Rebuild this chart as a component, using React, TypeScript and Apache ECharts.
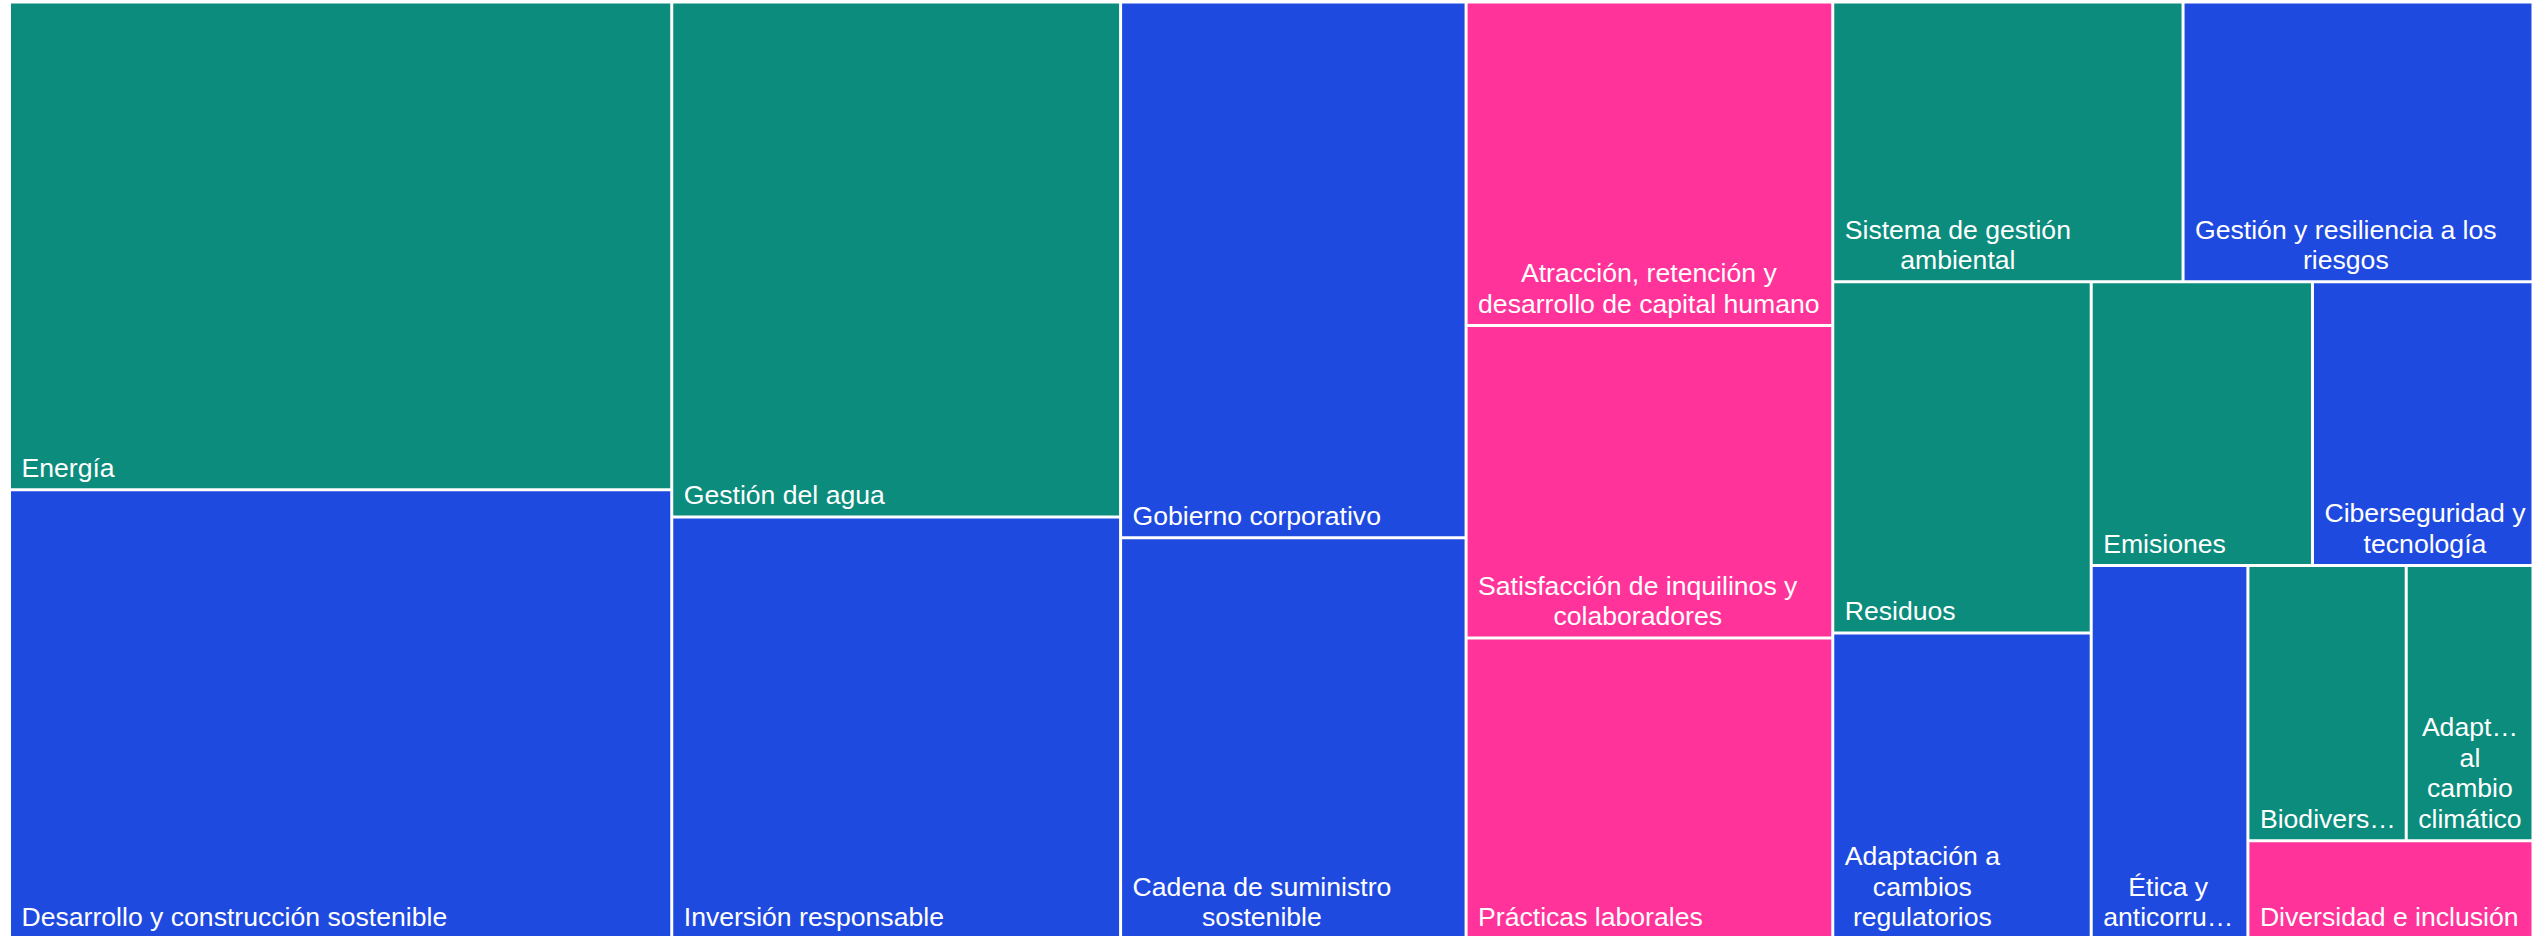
import React, { useEffect, useRef } from 'react';
import * as echarts from 'echarts';

// Full topic names
const names = [
  'Energía',
  'Desarrollo y construcción sostenible',
  'Gestión del agua',
  'Inversión responsable',
  'Gobierno corporativo',
  'Cadena de suministro sostenible',
  'Atracción, retención y desarrollo de capital humano',
  'Satisfacción de inquilinos y colaboradores',
  'Prácticas laborales',
  'Sistema de gestión ambiental',
  'Gestión y resiliencia a los riesgos',
  'Residuos',
  'Adaptación a cambios regulatorios',
  'Emisiones',
  'Ciberseguridad y tecnología',
  'Ética y anticorrupción',
  'Biodiversidad',
  'Adaptación al cambio climático',
  'Diversidad e inclusión',
];

// Labels as displayed (wrapped / truncated)
const labelTexts = [
  'Energía',
  'Desarrollo y construcción sostenible',
  'Gestión del agua',
  'Inversión responsable',
  'Gobierno corporativo',
  'Cadena de suministro\nsostenible',
  'Atracción, retención y\ndesarrollo de capital humano',
  'Satisfacción de inquilinos y\ncolaboradores',
  'Prácticas laborales',
  'Sistema de gestión\nambiental',
  'Gestión y resiliencia a los\nriesgos',
  'Residuos',
  'Adaptación a\ncambios\nregulatorios',
  'Emisiones',
  'Ciberseguridad y\ntecnología',
  'Ética y\nanticorru…',
  'Biodivers…',
  'Adapt…\nal\ncambio\nclimático',
  'Diversidad e inclusión',
];

// Relative weights
const values = [323.8, 298.4, 231.8, 189.9, 185.6, 139.0, 118.9, 114.9, 110.7, 98.3, 98.2, 91.0, 79.3, 62.9, 62.7, 58.7, 43.7, 35.0, 28.1];

// Pillar of each topic: A = ambiental, S = social, G = gobernanza
const pillars = ['A', 'G', 'A', 'G', 'G', 'G', 'S', 'S', 'S', 'A', 'G', 'A', 'G', 'A', 'G', 'G', 'A', 'A', 'S'];
const pillarColors: Record<string, string> = { A: '#0B8C7C', G: '#1F4AE0', S: '#FF3399' };

// Order in which topics are grouped into strips by the layout
const strips = [[0, 1], [2, 3], [4, 5], [6, 7, 8], [9, 10], [11, 12], [13, 14], [15], [16, 17], [18]];

const FONT_SIZE = 26.6;
const FONT_FAMILY = '"Liberation Sans", Arial, Helvetica, sans-serif';
const LINE_HEIGHT = 30.5;
const PAD_LEFT = 10.5;
const PAD_BOTTOM = 5;

function measureBlock(text: string): number {
  const ctx = document.createElement('canvas').getContext('2d');
  if (!ctx) return 0;
  ctx.font = `${FONT_SIZE}px ${FONT_FAMILY}`;
  return Math.max(...text.split('\n').map((l) => ctx.measureText(l).width));
}

function leaf(i: number): any {
  const w = measureBlock(labelTexts[i]);
  return {
    name: names[i],
    value: values[i],
    display: labelTexts[i],
    itemStyle: { color: pillarColors[pillars[i]], borderWidth: 1.5, borderColor: '#ffffff' },
    label: {
      position: [PAD_LEFT + w / 2, '100%'],
      align: 'center',
      verticalAlign: 'bottom',
      padding: [0, 0, PAD_BOTTOM, 0],
    },
  };
}

function chain(items: any[]): any {
  if (items.length === 1) return items[0];
  return { name: '', children: [items[0], chain(items.slice(1))] };
}

export default function App() {
  const ref = useRef<HTMLDivElement>(null);
  useEffect(() => {
    if (!ref.current) return;
    const chart = echarts.init(ref.current, undefined, { renderer: 'svg' });
    const stripNodes = strips.map((s) => chain(s.map((i) => leaf(i))));
    const top = chain(stripNodes);
    chart.setOption({
      animation: false,
      series: [
        {
          type: 'treemap',
          left: 9.5,
          top: 2,
          width: 2523.5,
          height: 937,
          sort: false,
          squareRatio: 1,
          roam: false,
          nodeClick: false,
          breadcrumb: { show: false },
          itemStyle: { borderWidth: 0, gapWidth: 0, borderColor: '#ffffff' },
          label: {
            show: true,
            color: '#ffffff',
            fontSize: FONT_SIZE,
            fontFamily: FONT_FAMILY,
            lineHeight: LINE_HEIGHT,
            overflow: 'none',
            formatter: (p: any) => (p.data && p.data.display) || '',
          },
          upperLabel: { show: false },
          data: top.children,
        },
      ],
    });
    return () => chart.dispose();
  }, []);
  return (
    <div
      ref={ref}
      style={{ position: 'fixed', left: 0, top: 0, width: 2532, height: 936, background: '#ffffff' }}
    />
  );
}
